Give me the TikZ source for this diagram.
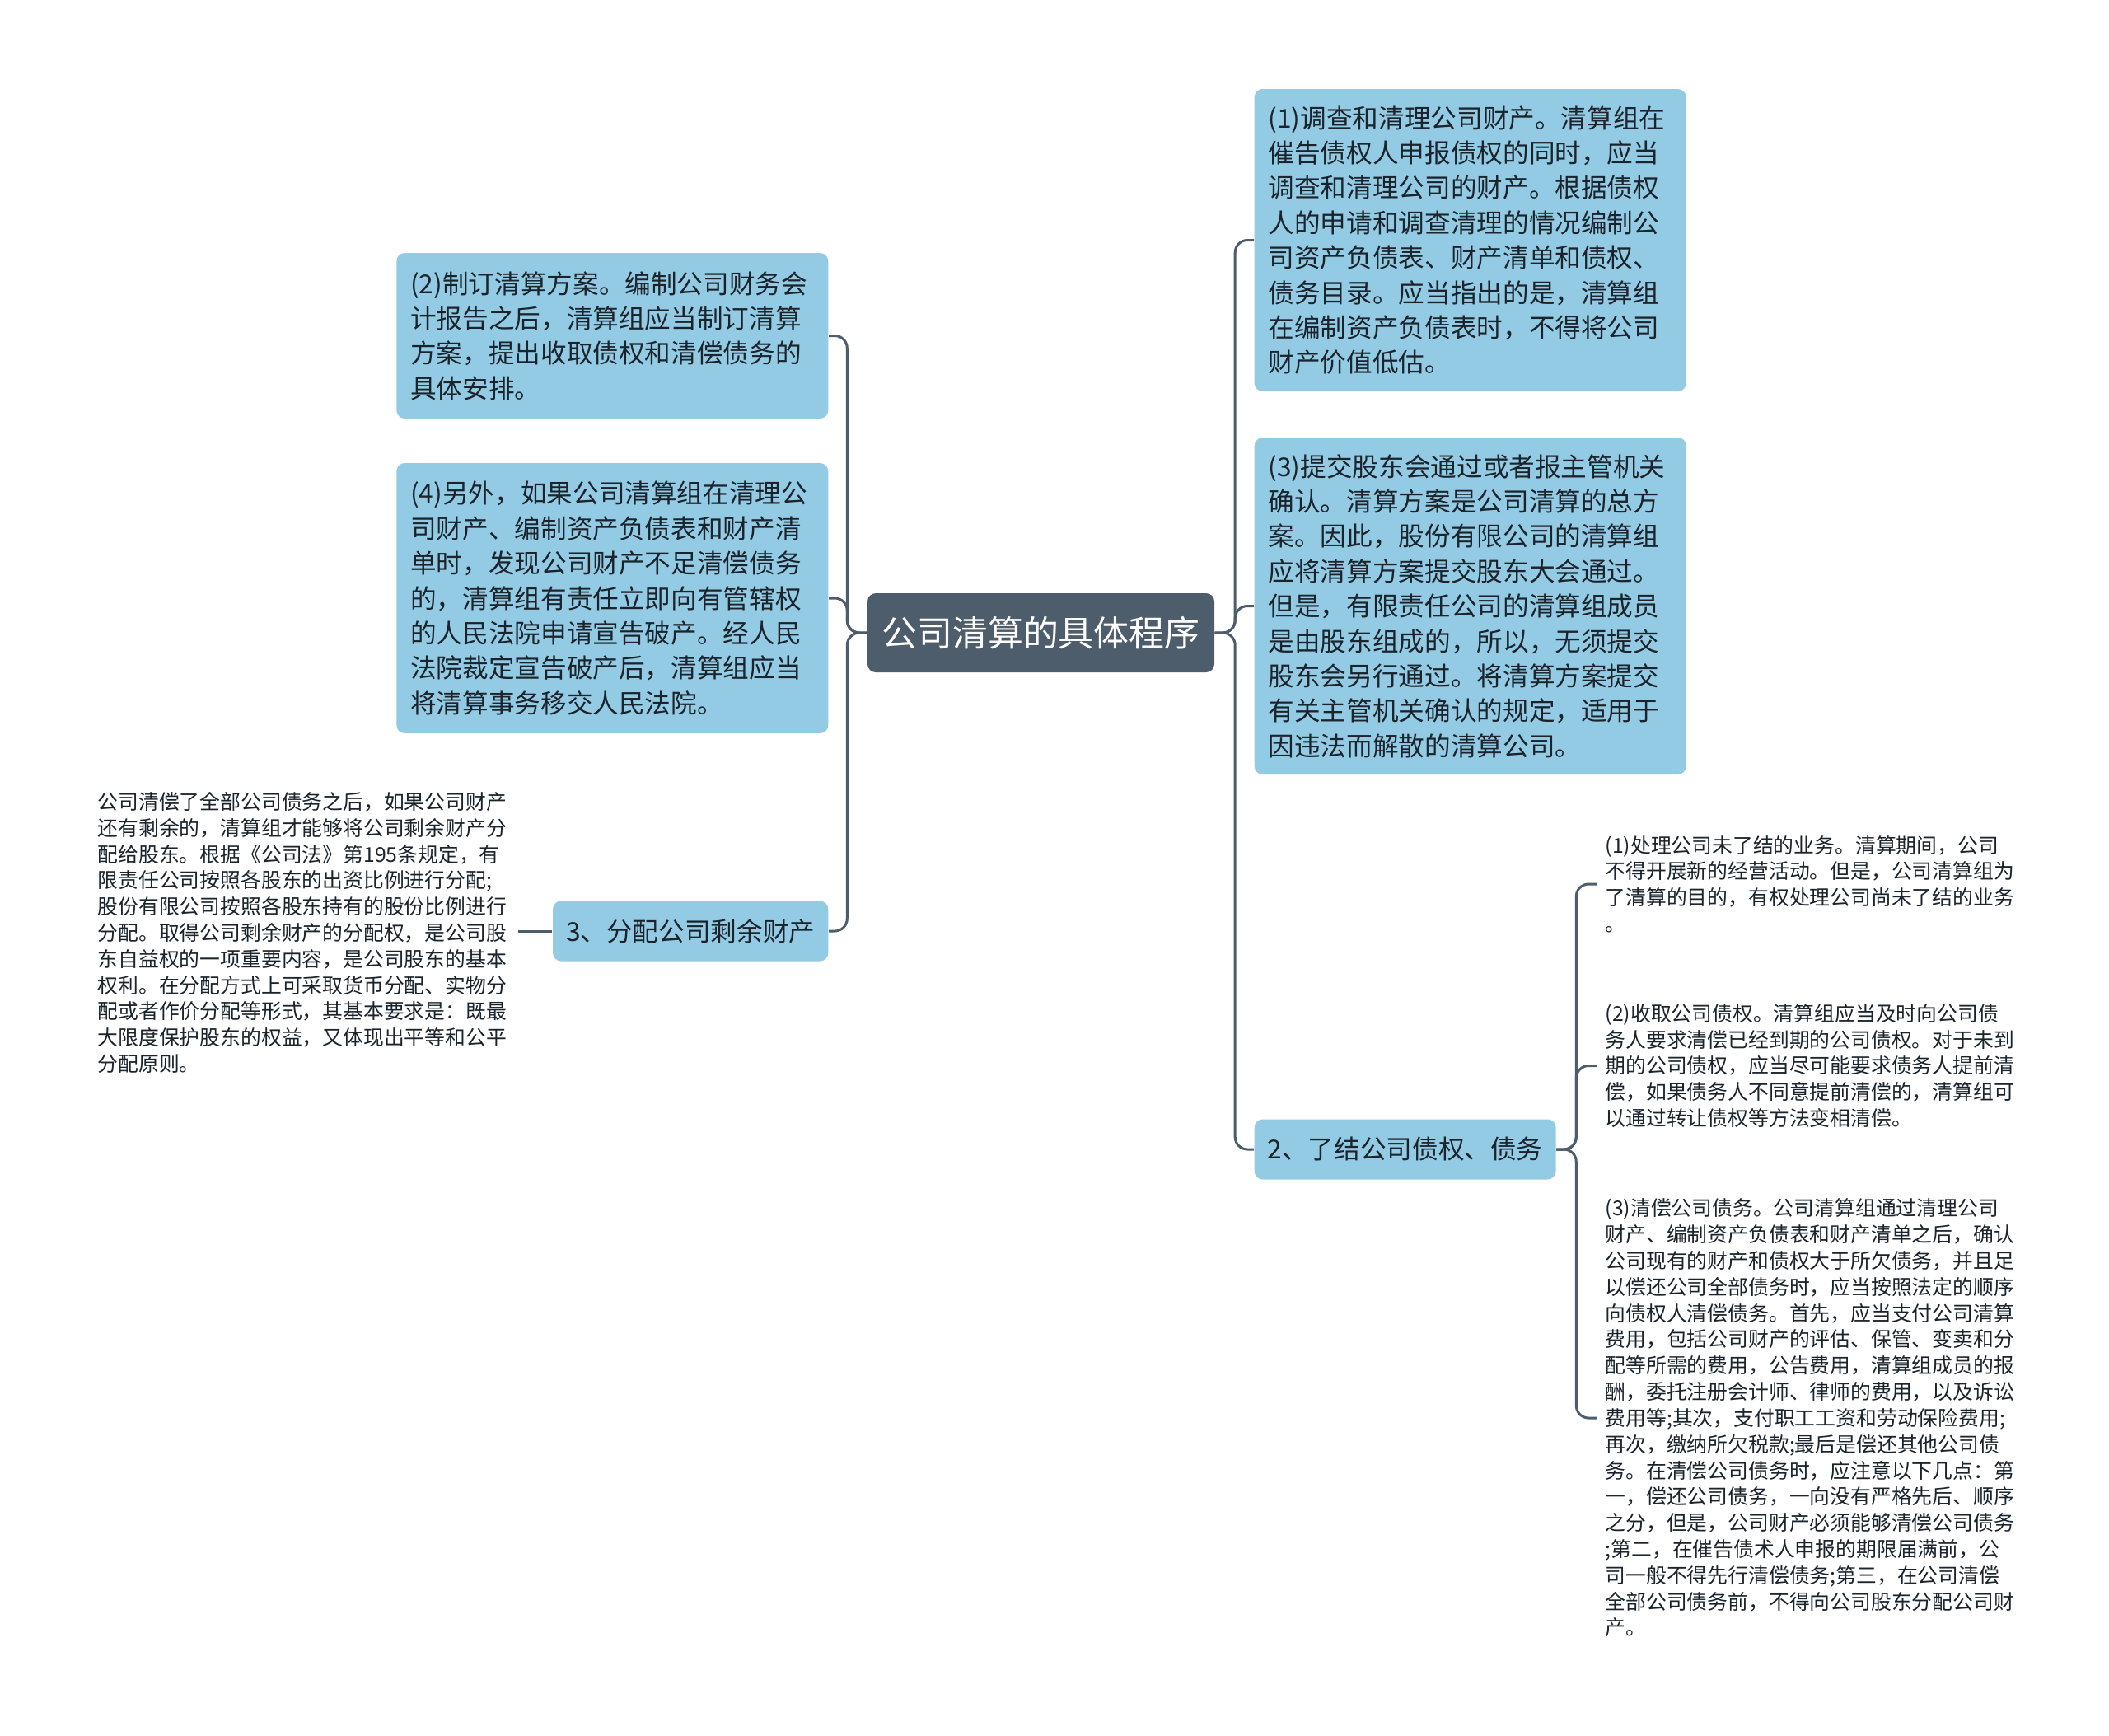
\documentclass[tikz,border=0pt]{standalone}
\usepackage{fontspec}
\setmainfont{Noto Sans CJK SC}
\definecolor{slate}{HTML}{4E5D6C}
\definecolor{skyfill}{HTML}{94CBE4}
\definecolor{inkdark}{HTML}{1B242C}

\begin{document}
\begin{tikzpicture}[
			root/.style = {fill=slate, text=white, rounded corners=0.1cm, minimum width=4.21cm, minimum height=0.96cm, font=\fontsize{12.2pt}{14pt}\selectfont},
			topic/.style = {fill=skyfill, text=inkdark, rounded corners=0.1cm, inner xsep=0.17cm, text width=4.9cm, align=left, font=\fontsize{9pt}{12.06pt}\selectfont},
			branch/.style = {fill=skyfill, text=inkdark, rounded corners=0.1cm, inner xsep=0.16cm, minimum height=0.73cm, font=\fontsize{9pt}{11pt}\selectfont},
			leaf/.style = {text=inkdark, inner sep=0.1cm, text width=5.0cm, align=left, font=\fontsize{7.06pt}{9.05pt}\selectfont},
			link/.style = {draw=slate, line width=0.03cm, rounded corners=0.15cm}]
			
			\useasboundingbox (0,0) rectangle (25.6,-21.07);
			\fill[white] (0,0) rectangle (25.6,-21.07);
			
			\node[root] (centre) at (12.635,-7.68) {公司清算的具体程序};
			
			\node[topic, minimum height=3.67cm, anchor=west] (prop) at (15.22,-2.915) {(1)调查和清理公司财产。清算组在\\催告债权人申报债权的同时，应当\\调查和清理公司的财产。根据债权\\人的申请和调查清理的情况编制公\\司资产负债表、财产清单和债权、\\债务目录。应当指出的是，清算组\\在编制资产负债表时，不得将公司\\财产价值低估。};
			\node[topic, minimum height=4.09cm, anchor=west] (submit) at (15.22,-7.355) {(3)提交股东会通过或者报主管机关\\确认。清算方案是公司清算的总方\\案。因此，股份有限公司的清算组\\应将清算方案提交股东大会通过。\\但是，有限责任公司的清算组成员\\是由股东组成的，所以，无须提交\\股东会另行通过。将清算方案提交\\有关主管机关确认的规定，适用于\\因违法而解散的清算公司。};
			\node[branch, anchor=west] (settle) at (15.22,-13.95) {2、了结公司债权、债务};
			
			\node[topic, minimum height=2.01cm, anchor=east] (plan) at (10.06,-4.075) {(2)制订清算方案。编制公司财务会\\计报告之后，清算组应当制订清算\\方案，提出收取债权和清偿债务的\\具体安排。};
			\node[topic, minimum height=3.28cm, anchor=east] (bankrupt) at (10.06,-7.26) {(4)另外，如果公司清算组在清理公\\司财产、编制资产负债表和财产清\\单时，发现公司财产不足清偿债务\\的，清算组有责任立即向有管辖权\\的人民法院申请宣告破产。经人民\\法院裁定宣告破产后，清算组应当\\将清算事务移交人民法院。};
			\node[branch, anchor=east] (share) at (10.06,-11.30) {3、分配公司剩余财产};
			
			\node[leaf, anchor=west] (shareText) at (1.08,-11.32) {公司清偿了全部公司债务之后，如果公司财产\\还有剩余的，清算组才能够将公司剩余财产分\\配给股东。根据《公司法》第195条规定，有\\限责任公司按照各股东的出资比例进行分配;\\股份有限公司按照各股东持有的股份比例进行\\分配。取得公司剩余财产的分配权，是公司股\\东自益权的一项重要内容，是公司股东的基本\\权利。在分配方式上可采取货币分配、实物分\\配或者作价分配等形式，其基本要求是：既最\\大限度保护股东的权益，又体现出平等和公平\\分配原则。};
			
			\node[leaf, anchor=west] (business) at (19.38,-10.73) {(1)处理公司未了结的业务。清算期间，公司\\不得开展新的经营活动。但是，公司清算组为\\了清算的目的，有权处理公司尚未了结的业务\\。};
			\node[leaf, anchor=west] (claims) at (19.38,-12.935) {(2)收取公司债权。清算组应当及时向公司债\\务人要求清偿已经到期的公司债权。对于未到\\期的公司债权，应当尽可能要求债务人提前清\\偿，如果债务人不同意提前清偿的，清算组可\\以通过转让债权等方法变相清偿。};
			\node[leaf, anchor=west] (debts) at (19.38,-17.21) {(3)清偿公司债务。公司清算组通过清理公司\\财产、编制资产负债表和财产清单之后，确认\\公司现有的财产和债权大于所欠债务，并且足\\以偿还公司全部债务时，应当按照法定的顺序\\向债权人清偿债务。首先，应当支付公司清算\\费用，包括公司财产的评估、保管、变卖和分\\配等所需的费用，公告费用，清算组成员的报\\酬，委托注册会计师、律师的费用，以及诉讼\\费用等;其次，支付职工工资和劳动保险费用;\\再次，缴纳所欠税款;最后是偿还其他公司债\\务。在清偿公司债务时，应注意以下几点：第\\一，偿还公司债务，一向没有严格先后、顺序\\之分，但是，公司财产必须能够清偿公司债务\\;第二，在催告债术人申报的期限届满前，公\\司一般不得先行清偿债务;第三，在公司清偿\\全部公司债务前，不得向公司股东分配公司财\\产。};
			
			\foreach \kid in {prop, submit, settle}
				\draw[link] (centre.east) -- ++(0.245,0) |- (\kid.west);
			\foreach \kid in {plan, bankrupt, share}
				\draw[link] (centre.west) -- ++(-0.24,0) |- (\kid.east);
			\foreach \kid in {business, claims, debts}
				\draw[link] (settle.east) -- ++(0.24,0) |- (\kid.west);
			\draw[link] (share.west) -- (share.west -| shareText.east);
			\end{tikzpicture}
\end{document}
